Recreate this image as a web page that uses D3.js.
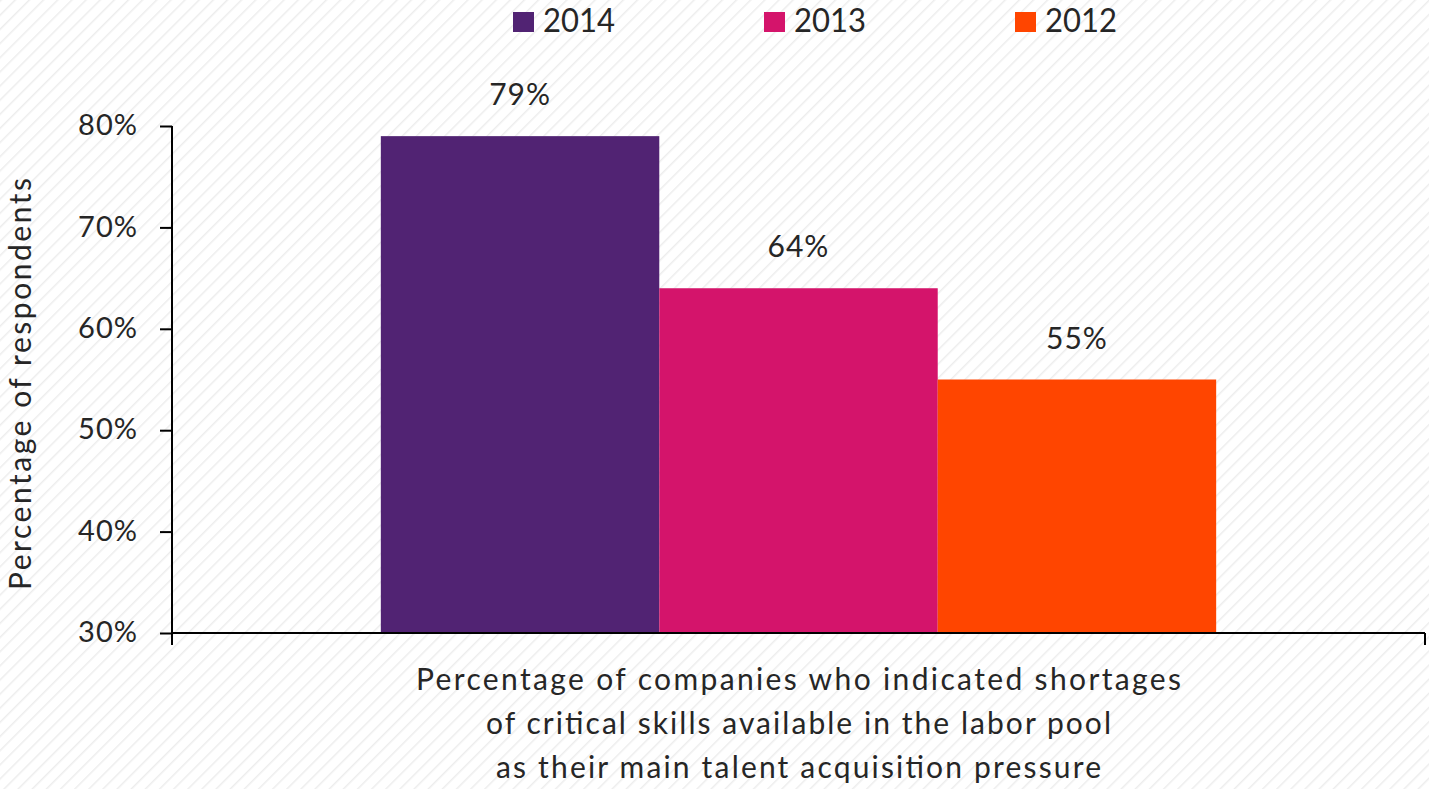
<!DOCTYPE html>
<html>
<head>
<meta charset="utf-8">
<script src="https://cdn.jsdelivr.net/npm/d3@7"></script>
<style>
  html, body { margin: 0; padding: 0; background: #ffffff; }
  svg { display: block; }
  text { font-family: Lato, "Open Sans", sans-serif; fill: #262626; }
</style>
</head>
<body>
<svg id="chart" width="1429" height="789"></svg>
<script>
const categories = ["Percentage of companies who indicated shortages|of critical skills available in the labor pool|as their main talent acquisition pressure"];
const seriesNames = ["2014", "2013", "2012"];
const seriesValues = [79, 64, 55];
const seriesColors = ["#512373", "#D4146B", "#FF4500"];
const yTicks = [30, 40, 50, 60, 70, 80];
const yTitle = "Percentage of respondents";

(function () {
const svg = d3.select("#chart");
const W = 1429, H = 789;

// hatched background
const defs = svg.append("defs");
const pat = defs.append("pattern").attr("id", "hatch")
  .attr("patternUnits", "userSpaceOnUse").attr("width", 10).attr("height", 10)
  .attr("patternTransform", "rotate(-45)");
pat.append("rect").attr("width", 10).attr("height", 10).attr("fill", "#ffffff");
pat.append("line").attr("x1", 0).attr("y1", 0).attr("x2", 10).attr("y2", 0)
  .attr("stroke", "#ededed").attr("stroke-width", 3);
svg.append("rect").attr("width", W).attr("height", H).attr("fill", "url(#hatch)");

const mLeft = 172, mRight = 1425, mTop = 126, mBottom = 633;

const x = d3.scaleBand().domain(categories).range([mLeft, mRight]).paddingInner(0).paddingOuter(0);
const xs = d3.scaleBand().domain(seriesNames)
  .range([x.bandwidth() / 6, x.bandwidth() * 5 / 6]).paddingInner(0).paddingOuter(0);
const y = d3.scaleLinear().domain([30, 80]).range([mBottom, mTop]);

// bars
const g = svg.append("g");
categories.forEach(cat => {
  seriesNames.forEach((s, i) => {
    g.append("rect")
      .attr("x", x(cat) + xs(s))
      .attr("y", y(seriesValues[i]))
      .attr("width", xs.bandwidth())
      .attr("height", y(30) - y(seriesValues[i]))
      .attr("fill", seriesColors[i]);
    g.append("text")
      .attr("x", x(cat) + xs(s) + xs.bandwidth() / 2)
      .attr("y", y(seriesValues[i]) - 31)
      .attr("text-anchor", "middle")
      .attr("font-size", 30)
      .attr("letter-spacing", 1)
      .text(seriesValues[i] + "%");
  });
});

// y axis
const yAxis = d3.axisLeft(y).tickValues(yTicks).tickFormat(d => d + "%").tickSize(12).tickPadding(22);
const ya = svg.append("g").attr("transform", `translate(${mLeft},0)`).call(yAxis);
ya.select(".domain").remove();
ya.selectAll(".tick line").attr("stroke", "#000").attr("stroke-width", 2);
ya.selectAll(".tick text").attr("font-size", 29).attr("fill", "#262626")
  .attr("font-family", "Lato, 'Open Sans', sans-serif").attr("dy", "0.3em")
  .attr("letter-spacing", 1);
svg.append("line").attr("x1", mLeft).attr("x2", mLeft).attr("y1", mTop).attr("y2", mBottom + 12)
  .attr("stroke", "#000").attr("stroke-width", 2);

// x axis
svg.append("line").attr("x1", mLeft).attr("x2", mRight).attr("y1", mBottom).attr("y2", mBottom)
  .attr("stroke", "#000").attr("stroke-width", 2);
[x.range()[1]].forEach(px => {
  svg.append("line").attr("x1", px).attr("x2", px).attr("y1", mBottom).attr("y2", mBottom + 12)
    .attr("stroke", "#000").attr("stroke-width", 2);
});

// category label
const lineWidths = [765, 625, 605];
categories.forEach(cat => {
  const lines = cat.split("|");
  lines.forEach((ln, i) => {
    svg.append("text").attr("text-anchor", "middle").attr("font-size", 30)
      .attr("x", x(cat) + x.bandwidth() / 2).attr("y", 690 + i * 44)
      .attr("textLength", lineWidths[i]).attr("lengthAdjust", "spacing")
      .text(ln);
  });
});

// y title
svg.append("text")
  .attr("transform", `translate(31,384) rotate(-90)`)
  .attr("text-anchor", "middle").attr("font-size", 30)
  .attr("textLength", 412).attr("lengthAdjust", "spacing").text(yTitle);

// legend
const legX = [513, 764, 1015];
seriesNames.forEach((s, i) => {
  svg.append("rect").attr("x", legX[i]).attr("y", 12).attr("width", 21).attr("height", 20)
    .attr("fill", seriesColors[i]);
  svg.append("text").attr("x", legX[i] + 30).attr("y", 32).attr("font-size", 32)
    .attr("textLength", 72).attr("lengthAdjust", "spacingAndGlyphs").text(s);
});
})();
</script>
</body>
</html>
